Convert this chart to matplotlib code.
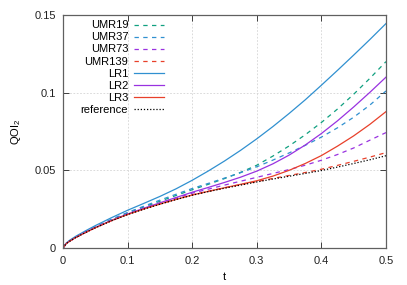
import matplotlib
matplotlib.use("Agg")
import matplotlib.pyplot as plt

plt.rcParams['font.family'] = ['Liberation Sans', 'DejaVu Sans']
plt.rcParams['mathtext.default'] = 'regular'

t = [0, 0.005, 0.01, 0.02, 0.035, 0.05, 0.075, 0.1, 0.125, 0.15, 0.175, 0.2,
     0.225, 0.25, 0.275, 0.3, 0.325, 0.35, 0.375, 0.4, 0.425, 0.45, 0.475, 0.5]

umr19 = [0, 0.0029, 0.0044, 0.0070, 0.0103, 0.0134, 0.0182, 0.0225, 0.0264, 0.0301,
         0.0338, 0.0375, 0.0410, 0.0447, 0.0487, 0.0533, 0.0592, 0.0657, 0.0729,
         0.0808, 0.0895, 0.0990, 0.1092, 0.1200]
umr37 = [0, 0.0029, 0.0045, 0.0071, 0.0104, 0.0136, 0.0185, 0.0229, 0.0269, 0.0308,
         0.0346, 0.0383, 0.0416, 0.0450, 0.0485, 0.0523, 0.0566, 0.0612, 0.0661,
         0.0714, 0.0774, 0.0842, 0.0920, 0.1011]
umr73 = [0, 0.0028, 0.0044, 0.0069, 0.0101, 0.0132, 0.0178, 0.0219, 0.0256, 0.0290,
         0.0322, 0.0353, 0.0379, 0.0405, 0.0430, 0.0455, 0.0480, 0.0505, 0.0533,
         0.0565, 0.0602, 0.0644, 0.0694, 0.0743]
umr139 = [0, 0.0028, 0.0043, 0.0068, 0.0100, 0.0131, 0.0176, 0.0216, 0.0251, 0.0283,
          0.0313, 0.0342, 0.0365, 0.0387, 0.0408, 0.0428, 0.0448, 0.0467, 0.0486,
          0.0507, 0.0532, 0.0558, 0.0585, 0.0614]
lr1 = [0, 0.0032, 0.0049, 0.0076, 0.0111, 0.0144, 0.0195, 0.0243, 0.0287, 0.0332,
       0.0381, 0.0436, 0.0496, 0.0560, 0.0629, 0.0703, 0.0782, 0.0866, 0.0954,
       0.1048, 0.1144, 0.1242, 0.1342, 0.1445]
lr2 = [0, 0.0029, 0.0044, 0.0069, 0.0102, 0.0132, 0.0178, 0.0219, 0.0256, 0.0291,
       0.0325, 0.0359, 0.0390, 0.0422, 0.0456, 0.0495, 0.0542, 0.0598, 0.0663,
       0.0737, 0.0819, 0.0908, 0.1002, 0.1100]
lr3 = [0, 0.0028, 0.0043, 0.0068, 0.0100, 0.0130, 0.0176, 0.0216, 0.0251, 0.0283,
       0.0313, 0.0341, 0.0365, 0.0388, 0.0410, 0.0433, 0.0463, 0.0500, 0.0544,
       0.0595, 0.0656, 0.0722, 0.0796, 0.0878]
reference = [0, 0.0028, 0.0043, 0.0068, 0.0100, 0.0130, 0.0175, 0.0215, 0.0250, 0.0282,
             0.0312, 0.0340, 0.0363, 0.0385, 0.0405, 0.0425, 0.0444, 0.0462, 0.0480,
             0.0499, 0.0521, 0.0544, 0.0568, 0.0594]

xticks = [0, 0.1, 0.2, 0.3, 0.4, 0.5]
xticklabels = ['0', '0.1', '0.2', '0.3', '0.4', '0.5']
yticks = [0, 0.05, 0.1, 0.15]
yticklabels = ['0', '0.05', '0.1', '0.15']

green = '#10a080'
blue = '#3090d0'
purple = '#9932e0'
red = '#e8402a'

fig = plt.figure(figsize=(4.07, 2.85), dpi=100)
ax = fig.add_axes([63/407, 1-248/285, 323/407, 233/285])

dash = (0, (3.5, 3.5))
lw = 0.9
ax.plot(t, umr19, color=green, lw=lw, ls=dash, label='UMR19')
ax.plot(t, umr37, color=blue, lw=lw, ls=dash, label='UMR37')
ax.plot(t, umr73, color=purple, lw=lw, ls=dash, label='UMR73')
ax.plot(t, umr139, color=red, lw=lw, ls=dash, label='UMR139')
ax.plot(t, lr1, color=blue, lw=lw, label='LR1')
ax.plot(t, lr2, color=purple, lw=lw, label='LR2')
ax.plot(t, lr3, color=red, lw=lw, label='LR3')
ax.plot(t, reference, color='black', lw=lw, ls=(0, (1, 1.5)), label='reference')

ax.set_xlim(0, 0.5)
ax.set_ylim(0, 0.15)
ax.set_xticks(xticks)
ax.set_xticklabels(xticklabels)
ax.set_yticks(yticks)
ax.set_yticklabels(yticklabels)
ax.tick_params(direction='in', length=4, width=0.6, top=True, right=True,
               labelsize=8, colors='#222222', pad=5)
ax.tick_params(axis='x', pad=6)
for s in ax.spines.values():
    s.set_color('#606060')
    s.set_linewidth(0.9)
ax.grid(True, color='#d4d4d4', lw=0.6, ls=(0, (2, 2)))
ax.set_axisbelow(True)

ax.set_xlabel('t', fontsize=8, labelpad=4)
ax.set_ylabel('QOI$_2$', fontsize=8, labelpad=8)

leg = ax.legend(loc='upper right', bbox_to_anchor=((166-63)/323, (248-18)/233),
                frameon=False, markerfirst=False, fontsize=8,
                handlelength=2.7, handletextpad=0.5, labelspacing=0.19,
                handleheight=0.5, borderaxespad=0, borderpad=0.2)

fig.savefig('out.png', dpi=100)
